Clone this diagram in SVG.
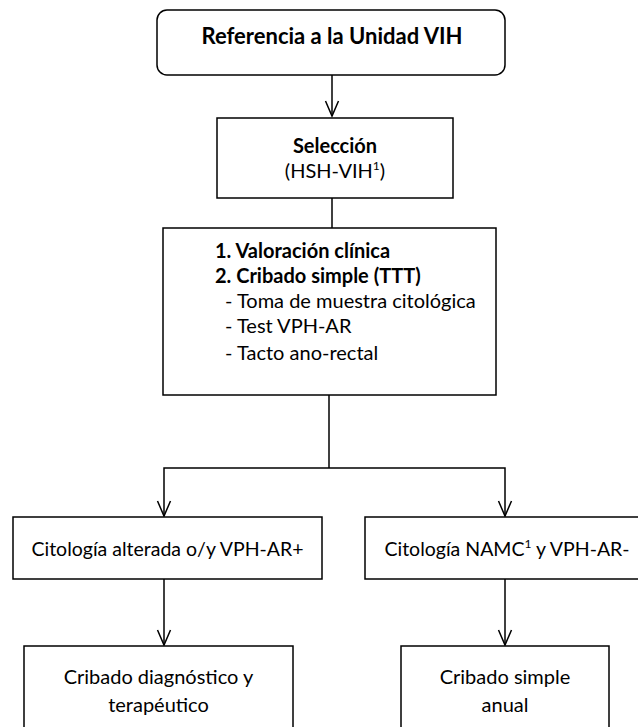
<svg xmlns="http://www.w3.org/2000/svg" width="638" height="727" viewBox="0 0 638 727">
<style>
.box{fill:#fff;stroke:#000;stroke-width:1.5}
.ln{fill:none;stroke:#000;stroke-width:1.5}
.hd{fill:none;stroke:#000;stroke-width:1.5;stroke-linejoin:miter}
text{font-family:Lato,"Liberation Sans",sans-serif;font-size:20px;fill:#000}
.b{font-weight:bold}
.c{text-anchor:middle}
.sup{font-size:12px}
</style>
<defs>
<path id="chev" class="hd" d="M-6.5,-15 L0,0 L6.5,-15"/>
</defs>
<rect width="638" height="727" fill="#fff"/>
<g id="connectors">
<line class="ln" x1="332" y1="75" x2="332" y2="116"/>
<use href="#chev" x="332" y="116"/>
<line class="ln" x1="332" y1="198" x2="332" y2="228"/>
<line class="ln" x1="329" y1="395" x2="329" y2="468"/>
<polyline class="ln" points="164,516 164,468 505,468 505,516"/>
<use href="#chev" x="164" y="516"/>
<use href="#chev" x="505" y="516"/>
<line class="ln" x1="164" y1="579" x2="164" y2="645"/>
<use href="#chev" x="164" y="645"/>
<line class="ln" x1="505" y1="579" x2="505" y2="645"/>
<use href="#chev" x="505" y="645"/>
</g>
<g id="referencia">
<rect class="box" x="157" y="10" width="348" height="65" rx="10"/>
<text class="b c" x="332" y="44" style="font-size:22px">Referencia a la Unidad VIH</text>
</g>
<g id="seleccion">
<rect class="box" x="217" y="118" width="236" height="80"/>
<text class="b c" x="335" y="153">Selección</text>
<text class="c" x="335" y="178">(HSH-VIH<tspan class="sup" dy="-8">1</tspan><tspan dy="8">)</tspan></text>
</g>
<g id="valoracion">
<rect class="box" x="163" y="228" width="333" height="167"/>
<text class="b" x="215" y="258">1. Valoración clínica</text>
<text class="b" x="215" y="283">2. Cribado simple (TTT)</text>
<text x="225" y="308">- Toma de muestra citológica</text>
<text x="225" y="333">- Test VPH-AR</text>
<text x="225" y="360">- Tacto ano-rectal</text>
</g>
<g id="alterada">
<rect class="box" x="13" y="517" width="309" height="62"/>
<text class="c" x="167.5" y="556" style="font-size:19.5px">Citología alterada o/y VPH-AR+</text>
</g>
<g id="namc">
<rect class="box" x="365" y="517" width="285" height="62"/>
<text class="c" x="507" y="556" style="font-size:19.5px">Citología NAMC<tspan class="sup" dy="-8">1</tspan><tspan dy="8"> y VPH-AR-</tspan></text>
</g>
<g id="diagnostico">
<rect class="box" x="24" y="646" width="269" height="100"/>
<text class="c" x="158.5" y="684">Cribado diagnóstico y</text>
<text class="c" x="158.5" y="712">terapéutico</text>
</g>
<g id="anual">
<rect class="box" x="401" y="646" width="208" height="100"/>
<text class="c" x="505" y="684">Cribado simple</text>
<text class="c" x="505" y="712">anual</text>
</g>
</svg>
